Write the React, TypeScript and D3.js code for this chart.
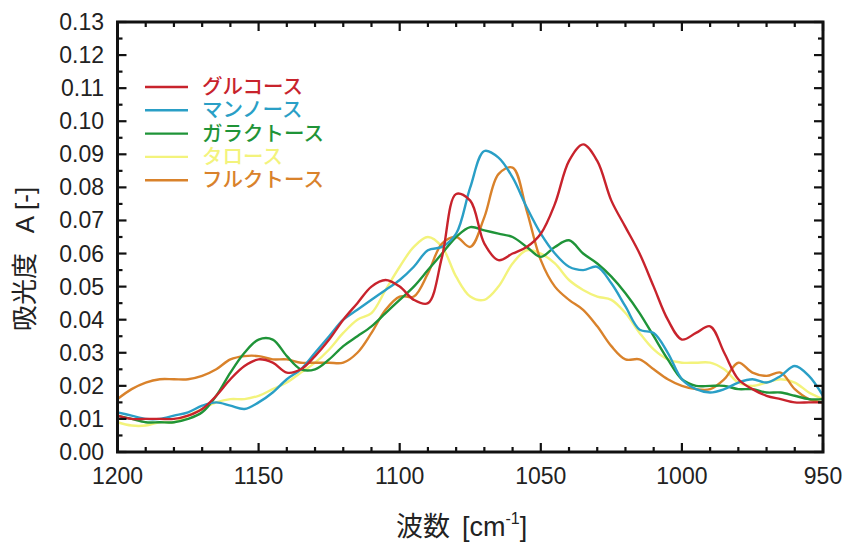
import React from 'react';
import * as d3 from 'd3';

// wavenumber grid [cm-1], read every 5 cm-1
const WAVENUMBERS = [
  1200, 1195, 1190, 1185, 1180, 1175, 1170, 1165, 1160, 1155,
  1150, 1145, 1140, 1135, 1130, 1125, 1120, 1115, 1110, 1105,
  1100, 1095, 1090, 1085, 1080, 1075, 1070, 1065, 1060, 1055,
  1050, 1045, 1040, 1035, 1030, 1025, 1020, 1015, 1010, 1005,
  1000, 995, 990, 985, 980, 975, 970, 965, 960, 955, 950,
];

const GLUCOSE = [
  0.011, 0.010, 0.010, 0.010, 0.010, 0.011, 0.013, 0.017, 0.022, 0.026,
  0.028, 0.027, 0.024, 0.025, 0.029, 0.034, 0.040, 0.045, 0.050, 0.052,
  0.050, 0.046, 0.045, 0.059, 0.078, 0.076, 0.063, 0.058, 0.060, 0.062,
  0.066, 0.075, 0.088, 0.093, 0.088, 0.076, 0.068, 0.060, 0.050, 0.040,
  0.034, 0.036, 0.038, 0.030, 0.022, 0.019, 0.017, 0.016, 0.015, 0.015, 0.015,
];

const MANNOSE = [
  0.012, 0.011, 0.010, 0.010, 0.011, 0.012, 0.014, 0.015, 0.014, 0.013,
  0.015, 0.018, 0.022, 0.025, 0.030, 0.035, 0.040, 0.043, 0.046, 0.049,
  0.052, 0.056, 0.061, 0.062, 0.066, 0.080, 0.091, 0.089, 0.083, 0.074,
  0.066, 0.060, 0.056, 0.055, 0.056, 0.051, 0.044, 0.037, 0.036, 0.030,
  0.022, 0.019, 0.018, 0.019, 0.021, 0.022, 0.021, 0.023, 0.026, 0.023, 0.017,
];

const GALACTOSE = [
  0.011, 0.010, 0.009, 0.009, 0.009, 0.010, 0.012, 0.017, 0.024, 0.030,
  0.034, 0.034, 0.029, 0.025, 0.025, 0.028, 0.032, 0.035, 0.038, 0.042,
  0.046, 0.050, 0.055, 0.060, 0.065, 0.068, 0.067, 0.066, 0.065, 0.062,
  0.059, 0.062, 0.064, 0.060, 0.057, 0.053, 0.048, 0.042, 0.035, 0.028,
  0.022, 0.020, 0.020, 0.020, 0.019, 0.019, 0.018, 0.018, 0.017, 0.016, 0.016,
];

const TALOSE = [
  0.009, 0.008, 0.008, 0.009, 0.009, 0.011, 0.013, 0.015, 0.016, 0.016,
  0.017, 0.019, 0.021, 0.024, 0.027, 0.031, 0.036, 0.040, 0.042, 0.049,
  0.056, 0.062, 0.065, 0.062, 0.053, 0.047, 0.046, 0.050, 0.057, 0.061,
  0.060, 0.057, 0.052, 0.049, 0.047, 0.046, 0.042, 0.036, 0.031, 0.028,
  0.027, 0.027, 0.027, 0.025, 0.021, 0.020, 0.021, 0.022, 0.021, 0.018, 0.016,
];

const FRUCTOSE = [
  0.016, 0.019, 0.021, 0.022, 0.022, 0.022, 0.023, 0.025, 0.028, 0.029,
  0.029, 0.028, 0.028, 0.027, 0.027, 0.027, 0.027, 0.030, 0.036, 0.043,
  0.047, 0.047, 0.054, 0.063, 0.065, 0.062, 0.071, 0.084, 0.086, 0.073,
  0.058, 0.050, 0.046, 0.043, 0.038, 0.032, 0.028, 0.028, 0.025, 0.022,
  0.020, 0.019, 0.019, 0.022, 0.027, 0.024, 0.023, 0.024, 0.019, 0.016, 0.015,
];

const SERIES = [
  { name: 'グルコース', color: '#c8232c', values: GLUCOSE },
  { name: 'マンノース', color: '#2a9fc6', values: MANNOSE },
  { name: 'ガラクトース', color: '#1f9438', values: GALACTOSE },
  { name: 'タロース', color: '#f3f37c', values: TALOSE },
  { name: 'フルクトース', color: '#d9822b', values: FRUCTOSE },
];
// drawing order: pale yellow underneath
const DRAW_ORDER = [3, 4, 2, 1, 0];

const Y_TICKS = [0, 0.01, 0.02, 0.03, 0.04, 0.05, 0.06, 0.07, 0.08, 0.09, 0.10, 0.11, 0.12, 0.13];
const X_TICKS = [1200, 1150, 1100, 1050, 1000, 950];

const W = 845;
const H = 543;
const LEFT = 117.5;
const RIGHT = 823;
const TOP = 22;
const BOTTOM = 452;

const NUM_FONT = '"Liberation Sans", Arial, sans-serif';
const JP_FONT = '"Noto Sans CJK JP", "Noto Sans", sans-serif';

export default function App() {
  const x = d3.scaleLinear().domain([1200, 950]).range([LEFT, RIGHT]);
  const y = d3.scaleLinear().domain([0, 0.13]).range([BOTTOM, TOP]);

  const line = d3.line<number>()
    .x((_, i) => x(WAVENUMBERS[i]))
    .y(d => y(d))
    .curve(d3.curveCatmullRom.alpha(0.5));

  const xMinor = d3.range(1200, 949, -10);
  const yMinor = d3.range(0, 0.1301, 0.005);

  return (
    <svg width={W} height={H} style={{ position: 'absolute', left: 0, top: 0, background: '#fff' }}>
      <rect width={W} height={H} fill="#fff" />

      <defs>
        <clipPath id="plot">
          <rect x={LEFT} y={TOP} width={RIGHT - LEFT} height={BOTTOM - TOP} />
        </clipPath>
      </defs>
      <g clipPath="url(#plot)">
        {DRAW_ORDER.map(i => (
          <path key={SERIES[i].name} d={line(SERIES[i].values) || ''}
            fill="none" stroke={SERIES[i].color} strokeWidth={2.4} strokeLinejoin="round" />
        ))}
      </g>

      {/* ticks, inward on all four sides */}
      <g stroke="#111" strokeWidth={2.2}>
        {xMinor.map(v => {
          const major = v % 50 === 0;
          const len = major ? 9 : 5;
          return (
            <g key={'xt' + v}>
              <line x1={x(v)} x2={x(v)} y1={BOTTOM} y2={BOTTOM - len} />
              <line x1={x(v)} x2={x(v)} y1={TOP} y2={TOP + len} />
            </g>
          );
        })}
        {yMinor.map((v, i) => {
          const len = i % 2 === 0 ? 9 : 5;
          return (
            <g key={'yt' + i}>
              <line x1={LEFT} x2={LEFT + len} y1={y(v)} y2={y(v)} />
              <line x1={RIGHT} x2={RIGHT - len} y1={y(v)} y2={y(v)} />
            </g>
          );
        })}
      </g>
      <rect x={LEFT} y={TOP} width={RIGHT - LEFT} height={BOTTOM - TOP}
        fill="none" stroke="#111" strokeWidth={3} />

      {/* tick labels */}
      <g fontFamily={NUM_FONT} fontSize={23} fill="#222">
        {Y_TICKS.map(v => (
          <text key={'yl' + v} x={104} y={y(v)} textAnchor="end" dominantBaseline="central">
            {v.toFixed(2)}
          </text>
        ))}
        {X_TICKS.map(v => (
          <text key={'xl' + v} x={x(v)} y={484} textAnchor="middle">{v}</text>
        ))}
      </g>

      {/* axis titles */}
      <text transform="translate(34,259) rotate(-90)" textAnchor="middle" fontSize={26} fill="#222">
        <tspan fontFamily={JP_FONT}>吸光度</tspan>
        <tspan fontFamily={NUM_FONT} dx={20}>A [-]</tspan>
      </text>
      <text x={396} y={536} fontSize={27} fill="#222">
        <tspan fontFamily={JP_FONT}>波数</tspan>
        <tspan fontFamily={NUM_FONT} dx={12}>[cm</tspan>
        <tspan fontFamily={NUM_FONT} fontSize={16} dy={-12}>-1</tspan>
        <tspan fontFamily={NUM_FONT} dy={12}>]</tspan>
      </text>

      {/* legend */}
      <g fontFamily={JP_FONT} fontSize={20.5} fontWeight={500}>
        {SERIES.map((s, i) => {
          const ly = 87 + i * 23.3;
          return (
            <g key={'lg' + s.name}>
              <line x1={145} x2={188} y1={ly} y2={ly} stroke={s.color} strokeWidth={2.4} />
              <text x={202} y={ly + 7} fill={s.color}>{s.name}</text>
            </g>
          );
        })}
      </g>
    </svg>
  );
}
